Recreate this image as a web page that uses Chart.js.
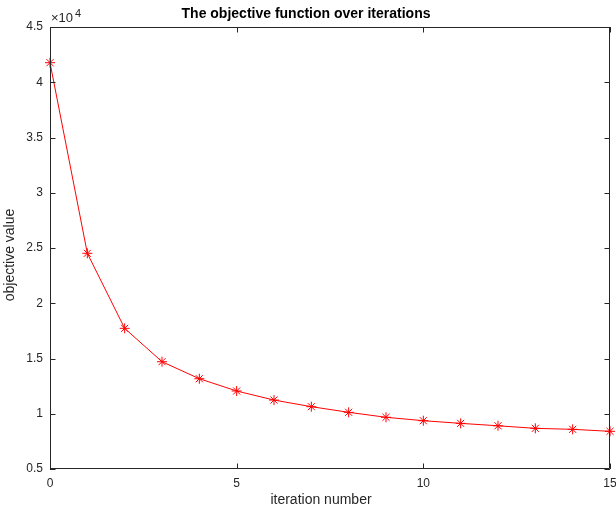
<!DOCTYPE html>
<html>
<head>
<meta charset="utf-8">
<script src="https://cdn.jsdelivr.net/npm/chart.js@4/dist/chart.umd.min.js"></script>
<style>
  html, body { margin: 0; padding: 0; background: #ffffff; }
  #wrap { width: 616px; height: 508px; }
</style>
</head>
<body>
<div id="wrap"><canvas id="c" width="616" height="508"></canvas></div>
<script>
// ---- data ----
const iterations = [0, 1, 2, 3, 4, 5, 6, 7, 8, 9, 10, 11, 12, 13, 14, 15];
const objectiveValues = [41770, 24520, 17730, 14710, 13170, 12060, 11240, 10640, 10130, 9680, 9370, 9130, 8910, 8680, 8590, 8410];
const xTickValues = [0, 5, 10, 15];
const yTickValues = [5000, 10000, 15000, 20000, 25000, 30000, 35000, 40000, 45000];
const chartTitle = 'The objective function over iterations';
const xLabel = 'iteration number';
const yLabel = 'objective value';
const yExponent = 4;

const AXIS = '#262626';
const FONT = '"Liberation Sans", Arial, Helvetica, sans-serif';

const points = iterations.map((x, i) => ({ x: x, y: objectiveValues[i] }));

const decorPlugin = {
  id: 'decor',
  afterDraw(chart) {
    const ctx = chart.ctx;
    const a = chart.chartArea;
    const xs = chart.scales.x, ys = chart.scales.y;
    const tl = 5.5;
    ctx.save();
    // box
    ctx.strokeStyle = AXIS;
    ctx.lineWidth = 1;
    ctx.beginPath();
    ctx.rect(Math.round(a.left) + 0.5, Math.round(a.top) + 0.5,
             Math.round(a.right - a.left) - 1, Math.round(a.bottom - a.top) - 1);
    ctx.stroke();
    // inward ticks (bottom/top/left/right)
    ctx.beginPath();
    xs.ticks.forEach(t => {
      const px = Math.round(xs.getPixelForValue(t.value)) + 0.5;
      ctx.moveTo(px, a.bottom); ctx.lineTo(px, a.bottom - tl);
      ctx.moveTo(px, a.top); ctx.lineTo(px, a.top + tl);
    });
    ys.ticks.forEach(t => {
      const py = Math.round(ys.getPixelForValue(t.value)) + 0.5;
      ctx.moveTo(a.left, py); ctx.lineTo(a.left + tl, py);
      ctx.moveTo(a.right, py); ctx.lineTo(a.right - tl, py);
    });
    ctx.stroke();

    // title
    ctx.fillStyle = '#000000';
    ctx.font = 'bold 14px ' + FONT;
    ctx.textAlign = 'center';
    ctx.textBaseline = 'middle';
    ctx.fillText(chartTitle, 306, 14);

    // x label
    ctx.fillStyle = AXIS;
    ctx.font = '14px ' + FONT;
    ctx.fillText(xLabel, 321, 500);

    // y label
    ctx.save();
    ctx.translate(10, 255);
    ctx.rotate(-Math.PI / 2);
    ctx.fillText(yLabel, 0, 0);
    ctx.restore();

    // exponent
    ctx.textAlign = 'left';
    ctx.font = '13px ' + FONT;
    ctx.fillText('\u00d710', a.left + 1, 18);
    const w = ctx.measureText('\u00d710').width;
    ctx.font = '11px ' + FONT;
    ctx.fillText(String(yExponent), a.left + 3 + w, 14);
    ctx.restore();
  }
};

new Chart(document.getElementById('c'), {
  type: 'line',
  data: {
    datasets: [{
      data: points,
      borderColor: '#ff0000',
      backgroundColor: '#ff0000',
      borderWidth: 1,
      pointStyle: 'star',
      pointRadius: 5,
      pointBorderWidth: 1,
      pointBorderColor: '#ff0000',
      tension: 0,
      fill: false,
      clip: false
    }]
  },
  options: {
    responsive: false,
    animation: false,
    events: [],
    layout: { padding: { top: 27, right: 5, left: 0, bottom: 0 } },
    plugins: { legend: { display: false }, title: { display: false }, tooltip: { enabled: false } },
    scales: {
      x: {
        type: 'linear',
        position: 'bottom',
        min: 0, max: 15,
        afterBuildTicks: s => { s.ticks = xTickValues.map(v => ({ value: v })); },
        ticks: { color: AXIS, font: { size: 12, family: FONT }, padding: 7, maxRotation: 0 },
        grid: { display: false, drawTicks: false },
        border: { display: false },
        afterFit: s => { s.height = 39; s.paddingLeft = 0; s.paddingRight = 0; }
      },
      y: {
        type: 'linear',
        min: 5000, max: 45000,
        afterBuildTicks: s => { s.ticks = yTickValues.map(v => ({ value: v })); },
        ticks: {
          color: AXIS, font: { size: 12, family: FONT }, padding: 7,
          callback: v => String(v / Math.pow(10, yExponent))
        },
        grid: { display: false, drawTicks: false },
        border: { display: false },
        afterFit: s => { s.width = 50; s.paddingTop = 0; s.paddingBottom = 0; }
      }
    }
  },
  plugins: [decorPlugin]
});
</script>
</body>
</html>
